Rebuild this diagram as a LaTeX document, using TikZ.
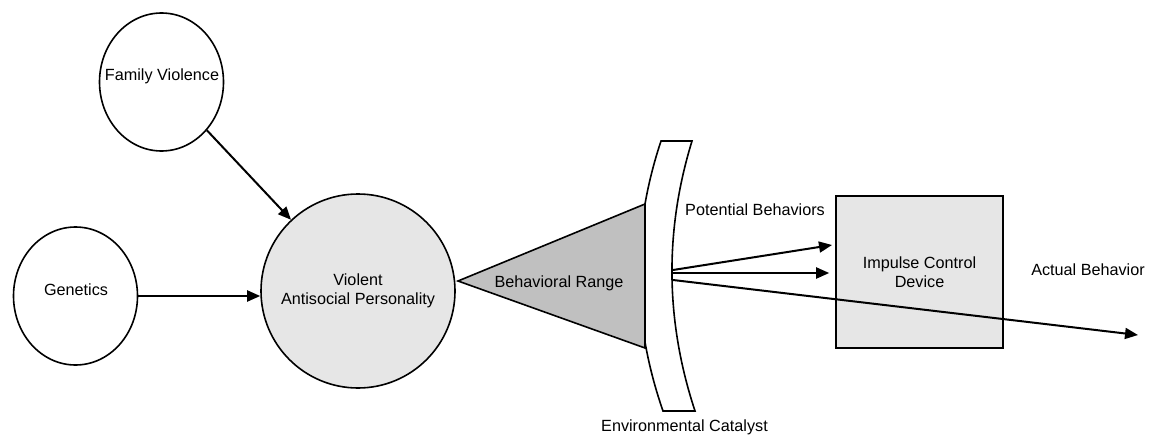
\documentclass[tikz,border=0pt]{standalone}
\usepackage{fontspec}
\setmainfont{Liberation Sans}
\usetikzlibrary{arrows.meta,shapes.geometric}
\definecolor{lightfill}{RGB}{230,230,230}
\definecolor{rangefill}{RGB}{192,192,192}

\begin{document}
\begin{tikzpicture}[x=0.5pt, y=-0.5pt, >={Triangle[length=6.5pt,width=5.5pt]},
    font=\fontsize{8.1}{9.7}\selectfont,
    factor/.style={draw, ellipse, line width=0.8pt, minimum width=62pt, minimum height=69pt, inner sep=0pt},
    core/.style={draw, circle, line width=0.8pt, fill=lightfill, minimum size=97pt, inner sep=0pt, align=center},
    device/.style={draw, rectangle, line width=0.8pt, fill=lightfill, minimum width=83.5pt, minimum height=76pt, align=center},
    tag/.style={inner sep=0pt, align=center}]
    \useasboundingbox (0,0) rectangle (1150,439);

    % Nodes {famviol, genetics, violent, impulse}
    \node [factor]  (famviol)      at (161.5,82)  {};
    \node [tag]     (famviol-txt)  at (162,76)    {Family Violence};
    \node [factor]  (genetics)     at (75.5,296)  {};
    \node [tag]     (genetics-txt) at (76,290)    {Genetics};
    \node [core]    (violent)      at (358,291)   {Violent\\Antisocial Personality};

    % Environmental catalyst lens
    \draw [line width=0.8pt, fill=white] (661,141) -- (692,141)
        .. controls (664.3,231) and (665.3,321) .. (695,411) -- (663,411)
        .. controls (631.7,321) and (631,231) .. (661,141) -- cycle;

    % Behavioral range
    \draw [line width=0.8pt, fill=rangefill] (458,281) -- (645,204) -- (645,348) -- cycle;
    \node [tag]     (range)        at (559,283)   {Behavioral Range};

    \node [device]  (impulse)      at (919.5,272) {Impulse Control\\Device};
    \node [tag]     (potential)    at (755,210)   {Potential Behaviors};
    \node [tag]     (actual)       at (1088,270)  {Actual Behavior};
    \node [tag]     (catalyst)     at (684.5,427) {Environmental Catalyst};

    \coordinate (out-top) at (673,270);
    \coordinate (out-mid) at (673,273);
    \coordinate (out-low) at (673,280);
    \coordinate (pot-end) at (832,245);
    \coordinate (act-end) at (1138,335);

    % Paths
    \path [->, line width=1pt] (famviol)       edge (violent)
                               (genetics.east) edge (genetics.east -| violent.west);
    \path [->, line width=1pt] (out-top) edge (pot-end)
                               (out-mid) edge [shorten >=3pt] (out-mid -| impulse.west)
                               (out-low) edge (act-end);

\end{tikzpicture}
\end{document}
